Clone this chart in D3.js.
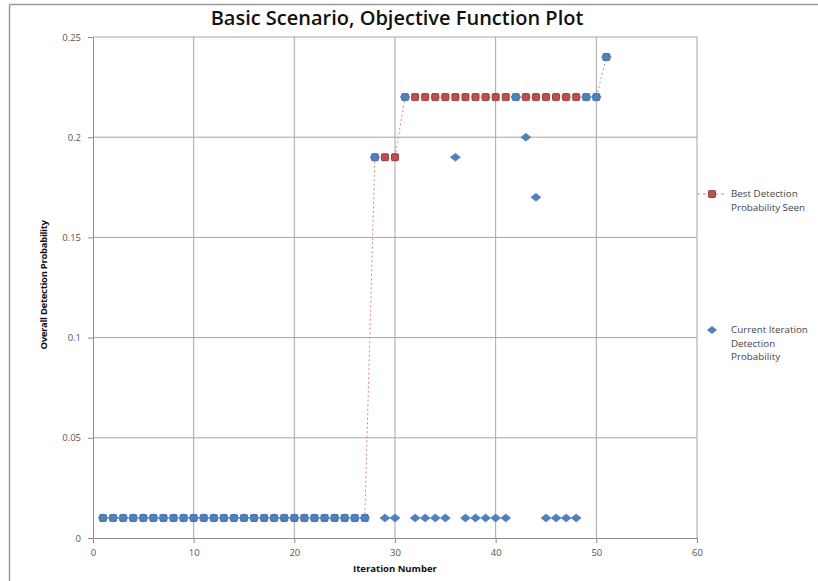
<!DOCTYPE html>
<html><head><meta charset="utf-8">
<script src="https://cdn.jsdelivr.net/npm/d3@7"></script>
<style>body{margin:0;background:#fff}svg{display:block}</style>
</head><body>
<svg id="c" width="818" height="581"></svg>
<script>
const iterations = d3.range(1, 52);
const bestSeen = [0.01,0.01,0.01,0.01,0.01,0.01,0.01,0.01,0.01,0.01,
  0.01,0.01,0.01,0.01,0.01,0.01,0.01,0.01,0.01,0.01,
  0.01,0.01,0.01,0.01,0.01,0.01,0.01,0.19,0.19,0.19,
  0.22,0.22,0.22,0.22,0.22,0.22,0.22,0.22,0.22,0.22,
  0.22,0.22,0.22,0.22,0.22,0.22,0.22,0.22,0.22,0.22,0.24];
const current = [0.01,0.01,0.01,0.01,0.01,0.01,0.01,0.01,0.01,0.01,
  0.01,0.01,0.01,0.01,0.01,0.01,0.01,0.01,0.01,0.01,
  0.01,0.01,0.01,0.01,0.01,0.01,0.01,0.19,0.01,0.01,
  0.22,0.01,0.01,0.01,0.01,0.19,0.01,0.01,0.01,0.01,
  0.01,0.22,0.20,0.17,0.01,0.01,0.01,0.01,0.22,0.22,0.24];
const xTicks = [0,10,20,30,40,50,60];
const yTicks = [0,0.05,0.1,0.15,0.2,0.25];
const yTickLabels = ["0","0.05","0.1","0.15","0.2","0.25"];
const title = "Basic Scenario, Objective Function Plot";
const xTitle = "Iteration Number";
const yTitle = "Overall Detection Probability";
const legendBest = ["Best Detection","Probability Seen"];
const legendCurrent = ["Current Iteration","Detection","Probability"];

const svg = d3.select("#c");
const font = "'Open Sans', 'Liberation Sans', sans-serif";
const x = d3.scaleLinear().domain([0,60]).range([93,697]);
const y = d3.scaleLinear().domain([0,0.25]).range([538,37]);

// frame
svg.append("line").attr("x1",9.5).attr("x2",818).attr("y1",4.5).attr("y2",4.5).attr("stroke","#9a9a9a").attr("stroke-width",1.5);
svg.append("line").attr("x1",9.5).attr("x2",9.5).attr("y1",4.5).attr("y2",581).attr("stroke","#9a9a9a").attr("stroke-width",1.5);

// grid
const g = svg.append("g");
g.selectAll(".vg").data(xTicks.slice(1)).join("line")
  .attr("x1",d=>x(d)).attr("x2",d=>x(d)).attr("y1",y(0.25)).attr("y2",y(0))
  .attr("stroke","#a6a6a6").attr("stroke-width",1);
g.selectAll(".hg").data(yTicks.slice(1)).join("line")
  .attr("x1",x(0)).attr("x2",x(60)).attr("y1",d=>y(d)).attr("y2",d=>y(d))
  .attr("stroke","#a6a6a6").attr("stroke-width",1);

// axes
const xa = svg.append("g").attr("transform",`translate(0,${y(0)})`)
  .call(d3.axisBottom(x).tickValues(xTicks).tickSize(5).tickSizeOuter(0).tickPadding(6));
const ya = svg.append("g").attr("transform",`translate(${x(0)},0)`)
  .call(d3.axisLeft(y).tickValues(yTicks).tickFormat((d,i)=>yTickLabels[i]).tickSize(5).tickSizeOuter(0).tickPadding(7));
[xa,ya].forEach(a=>{
  a.select(".domain").attr("stroke","#8c8c8c");
  a.selectAll(".tick line").attr("stroke","#8c8c8c");
  a.selectAll("text").attr("fill","#555").style("font-family",font).style("font-size","9.5px");
});

// best line
const pts = iterations.map((it,i)=>({it, b:bestSeen[i], c:current[i]}));
svg.append("path").datum(pts)
  .attr("d", d3.line().x(d=>x(d.it)).y(d=>y(d.b)))
  .attr("fill","none").attr("stroke","#d9888a").attr("stroke-width",1).attr("stroke-dasharray","2,2.5");

// best markers
const sq = 7;
svg.selectAll(".bm").data(pts).join("rect")
  .attr("x",d=>x(d.it)-sq/2).attr("y",d=>y(d.b)-sq/2).attr("width",sq).attr("height",sq).attr("rx",1)
  .attr("fill",d=>d.b===d.c ? "#4f81bd" : "#c0504d")
  .attr("stroke",d=>d.b===d.c ? "#3a679e" : "#7a2a28").attr("stroke-width",0.8);

// current markers (diamond 10 wide, 8 tall)
const diaPath = "M-5,0L0,-4L5,0L0,4Z";
svg.selectAll(".cm").data(pts).join("path")
  .attr("transform",d=>`translate(${x(d.it)},${y(d.c)})`)
  .attr("d",diaPath).attr("fill","#4f81bd").attr("stroke","#3f6fa8").attr("stroke-width",0.5);

// title
svg.append("text").attr("x",397).attr("y",25).attr("text-anchor","middle")
  .style("font-family",font).style("font-weight","600").style("font-size","20px").attr("fill","#111").text(title);
svg.append("text").attr("x",395).attr("y",572).attr("text-anchor","middle")
  .style("font-family",font).style("font-weight","bold").style("font-size","9.5px").attr("fill","#111").text(xTitle);
svg.append("text").attr("transform","translate(47,285) rotate(-90)").attr("text-anchor","middle")
  .style("font-family",font).style("font-weight","bold").style("font-size","9.5px").style("letter-spacing","-0.3px").attr("fill","#111").text(yTitle);

// legend
const lg = svg.append("g");
lg.append("line").attr("x1",697).attr("x2",727).attr("y1",194).attr("y2",194)
  .attr("stroke","#d9888a").attr("stroke-dasharray","3,3");
lg.append("rect").attr("x",712-sq/2).attr("y",194-sq/2).attr("width",sq).attr("height",sq).attr("rx",1)
  .attr("fill","#c0504d").attr("stroke","#7a2a28").attr("stroke-width",0.8);
lg.append("text").attr("x",731).attr("y",197).style("font-family",font).style("font-size","9.8px").attr("fill","#444")
  .selectAll("tspan").data(legendBest).join("tspan").attr("x",731).attr("dy",(d,i)=>i?14:0).text(d=>d);
lg.append("path").attr("transform","translate(712,330)").attr("d",diaPath).attr("fill","#4f81bd");
lg.append("text").attr("x",731).attr("y",333).style("font-family",font).style("font-size","9.8px").attr("fill","#444")
  .selectAll("tspan").data(legendCurrent).join("tspan").attr("x",731).attr("dy",(d,i)=>i?13.5:0).text(d=>d);
</script>
</body></html>
